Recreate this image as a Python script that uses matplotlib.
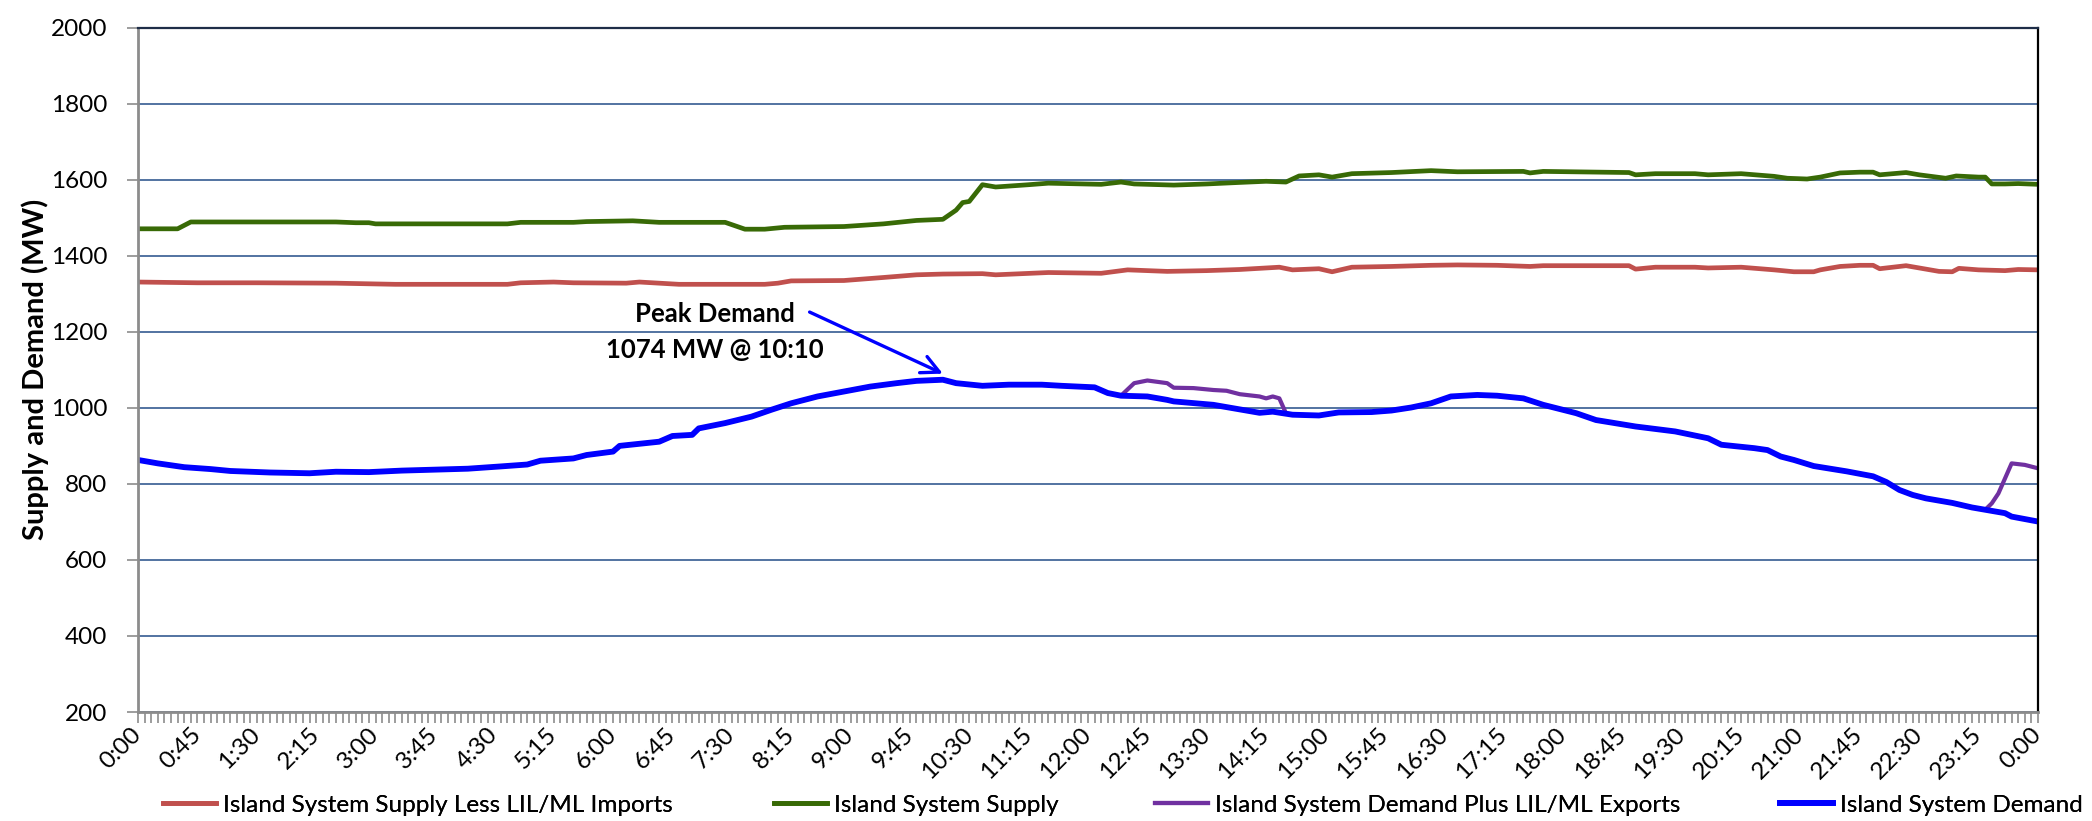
import numpy as np
import matplotlib.pyplot as plt

plt.rcParams['font.family'] = ['Lato', 'DejaVu Sans']

# Datos (hora "H:MM", MW)
supply_t = ["0:00", "0:30", "0:35", "0:40", "2:30", "2:45", "2:55", "3:00", "4:40", "4:50",
            "5:30", "5:40", "6:15", "6:35", "7:25", "7:40", "7:55", "8:10", "8:55", "9:25",
            "9:50", "10:10", "10:20", "10:25", "10:30", "10:40", "10:50", "11:15", "11:30", "12:10",
            "12:25", "12:35", "13:05", "13:30", "13:55", "14:15", "14:30", "14:40", "14:55", "15:05",
            "15:20", "15:50", "16:20", "16:40", "17:30", "17:35", "17:45", "18:50", "18:55", "19:10",
            "19:40", "19:50", "20:15", "20:40", "20:50", "21:05", "21:15", "21:30", "21:45", "21:55",
            "22:00", "22:20", "22:30", "22:50", "22:58", "23:15", "23:20", "23:25", "23:35", "23:45",
            "24:00"]
supply_v = [1471, 1471, 1480, 1489, 1489, 1487, 1487, 1484, 1484, 1488,
            1488, 1490, 1492, 1488, 1488, 1470, 1470, 1475, 1477, 1484,
            1493, 1496, 1520, 1540, 1543, 1587, 1581, 1587, 1591, 1588,
            1594, 1589, 1586, 1589, 1593, 1596, 1594, 1610, 1613, 1607,
            1616, 1619, 1624, 1621, 1622, 1618, 1622, 1619, 1613, 1616,
            1616, 1613, 1616, 1609, 1604, 1602, 1607, 1618, 1620, 1620,
            1613, 1619, 1613, 1604, 1610, 1607, 1607, 1589, 1589, 1590,
            1588]

less_t = ["0:00", "0:45", "1:30", "2:30", "3:00", "3:15", "4:40", "4:50", "5:15", "5:30",
          "6:10", "6:20", "6:50", "7:55", "8:05", "8:15", "8:55", "9:25", "9:50", "10:10",
          "10:40", "10:50", "11:30", "12:10", "12:30", "13:00", "13:30", "13:55", "14:25", "14:35",
          "14:55", "15:05", "15:20", "15:50", "16:20", "16:40", "17:10", "17:35", "17:45", "18:50",
          "18:55", "19:10", "19:40", "19:50", "20:15", "20:40", "20:55", "21:10", "21:15", "21:30",
          "21:45", "21:55", "22:00", "22:20", "22:30", "22:45", "22:55", "23:00", "23:15", "23:35",
          "23:45", "24:00"]
less_v = [1331, 1329, 1329, 1328, 1326, 1325, 1325, 1329, 1331, 1329,
          1328, 1331, 1325, 1325, 1328, 1334, 1335, 1343, 1350, 1352,
          1353, 1350, 1356, 1354, 1363, 1359, 1361, 1364, 1370, 1363,
          1366, 1358, 1370, 1372, 1375, 1376, 1375, 1372, 1374, 1374,
          1365, 1370, 1370, 1368, 1370, 1363, 1358, 1358, 1363, 1372,
          1375, 1375, 1366, 1374, 1368, 1359, 1358, 1367, 1363, 1361,
          1364, 1363]

demand_t = ["0:00", "0:15", "0:35", "0:55", "1:10", "1:40", "2:10", "2:30", "2:55", "3:20",
            "3:40", "4:10", "4:35", "4:55", "5:05", "5:30", "5:40", "6:00", "6:05", "6:35",
            "6:45", "7:00", "7:05", "7:25", "7:45", "8:00", "8:15", "8:35", "8:55", "9:15",
            "9:35", "9:50", "10:10", "10:20", "10:40", "11:00", "11:25", "11:40", "12:05", "12:15",
            "12:25", "12:45", "13:00", "13:05", "13:35", "13:55", "14:10", "14:20", "14:35", "14:55",
            "15:10", "15:35", "15:50", "16:05", "16:20", "16:35", "16:55", "17:10", "17:30", "17:45",
            "18:10", "18:25", "18:55", "19:25", "19:50", "20:00", "20:25", "20:35", "20:45", "20:55",
            "21:10", "21:35", "21:55", "22:05", "22:15", "22:25", "22:35", "22:55", "23:10", "23:20",
            "23:35", "23:40", "24:00"]
demand_v = [863, 854, 844, 839, 834, 830, 828, 832, 831, 835,
            837, 840, 846, 851, 861, 867, 876, 885, 900, 911,
            926, 929, 946, 960, 977, 995, 1012, 1030, 1043, 1056,
            1065, 1071, 1074, 1065, 1058, 1061, 1061, 1058, 1054, 1039,
            1032, 1030, 1021, 1017, 1008, 996, 987, 990, 982, 980,
            988, 989, 993, 1001, 1012, 1030, 1034, 1032, 1025, 1008,
            986, 968, 951, 938, 920, 903, 894, 889, 872, 863,
            847, 833, 820, 805, 784, 771, 762, 750, 738, 732,
            723, 714, 701]

# demanda + exportaciones, donde se separa de la demanda
exp1_t = ["12:25", "12:35", "12:45", "13:00", "13:05", "13:20", "13:35", "13:45", "13:55", "14:10",
          "14:15", "14:20", "14:25", "14:30"]
exp1_v = [1032, 1065, 1072, 1065, 1053, 1052, 1047, 1045, 1036, 1030,
          1025, 1030, 1025, 986]
exp2_t = ["23:20", "23:25", "23:30", "23:40", "23:50", "24:00"]
exp2_v = [732, 749, 775, 854, 850, 841]

xlabels = ["0:00", "0:45", "1:30", "2:15", "3:00", "3:45", "4:30", "5:15", "6:00", "6:45",
           "7:30", "8:15", "9:00", "9:45", "10:30", "11:15", "12:00", "12:45", "13:30", "14:15",
           "15:00", "15:45", "16:30", "17:15", "18:00", "18:45", "19:30", "20:15", "21:00", "21:45",
           "22:30", "23:15", "0:00"]


def to_min(lst):
    out = []
    for s in lst:
        h, m = s.split(':')
        out.append(int(h) * 60 + int(m))
    return np.array(out)


t_sup = to_min(supply_t)
t_less = to_min(less_t)
t_dem = to_min(demand_t)
t_e1 = to_min(exp1_t)
t_e2 = to_min(exp2_t)
dem_v = np.array(demand_v)

# serie morada completa: demanda fuera de las ventanas de exportacion
mask = ~(((t_dem > t_e1[0]) & (t_dem < t_e1[-1])) | (t_dem >= t_e2[0]))
t_plus = np.concatenate([t_dem[mask], t_e1, t_e2])
v_plus = np.concatenate([dem_v[mask], exp1_v, exp2_v])
orden = np.argsort(t_plus, kind='stable')
t_plus = t_plus[orden]
v_plus = v_plus[orden]

fig = plt.figure(figsize=(20.92, 8.21), dpi=100)
ax = fig.add_axes([0.06597, 0.13276, 0.90822, 0.8335])

l1, = ax.plot(t_less, less_v, '-', color='#C0504D', lw=3.4, label='Island System Supply Less LIL/ML Imports')
l2, = ax.plot(t_sup, supply_v, '-', color='#386A06', lw=3.4, label='Island System Supply')
l3, = ax.plot(t_plus, v_plus, '-', color='#7030A0', lw=3.0, label='Island System Demand Plus LIL/ML Exports')
l4, = ax.plot(t_dem, demand_v, '-', color='#0000FF', lw=4.2, label='Island System Demand')

ax.set_xlim(0, 1440)
ax.set_ylim(200, 2000)
ax.set_yticks(np.arange(200, 2001, 200))
ax.set_xticks(np.arange(len(xlabels)) * 45)
ax.set_xticklabels(xlabels, rotation=45, ha='right', va='center', rotation_mode='anchor')
ax.set_xticks(np.arange(0, 1441, 5), minor=True)
ax.tick_params(axis='x', which='both', length=8, width=1.2, color='#8C8C8C', labelsize=17.5, pad=6)
ax.tick_params(axis='y', length=8, width=1.2, color='#8C8C8C', labelsize=17.5, pad=14)

ax.grid(axis='y', color='#44689A', lw=1.3)
ax.set_axisbelow(True)
ax.spines['left'].set_color('#8C8C8C')
ax.spines['left'].set_linewidth(2)
ax.spines['bottom'].set_color('#8C8C8C')
ax.spines['bottom'].set_linewidth(2)
ax.spines['top'].set_color('#1E2D48')
ax.spines['top'].set_linewidth(1.6)
ax.spines['right'].set_color('#000000')
ax.spines['right'].set_linewidth(1.6)

ax.set_ylabel('Supply and Demand (MW)', fontsize=21, fontweight='bold')
ax.yaxis.set_label_coords(-0.047, 0.5)

# anotacion del pico
ax.text(437, 1247, 'Peak Demand', fontsize=18.5, fontweight='bold', ha='center', va='center')
ax.text(437, 1152, '1074 MW @ 10:10', fontsize=18.5, fontweight='bold', ha='center', va='center')
ax.annotate('', xy=(610, 1090), xytext=(509, 1252),
            arrowprops=dict(arrowstyle='->', color='#0000FF', lw=2.4, mutation_scale=32,
                            shrinkA=0, shrinkB=0))

# leyenda: una entrada por posicion, como en la original
leg_x = [163, 774, 1155, 1780]
for linea, xp in zip([l1, l2, l3, l4], leg_x):
    leg = fig.legend(handles=[linea], loc='center left', bbox_to_anchor=(xp / 2092, 1 - 805 / 821),
                     frameon=False, fontsize=17.5, handlelength=2.2, handletextpad=0.25,
                     borderpad=0, borderaxespad=0)
    fig.add_artist(leg)

fig.savefig('out.png', dpi=100)
